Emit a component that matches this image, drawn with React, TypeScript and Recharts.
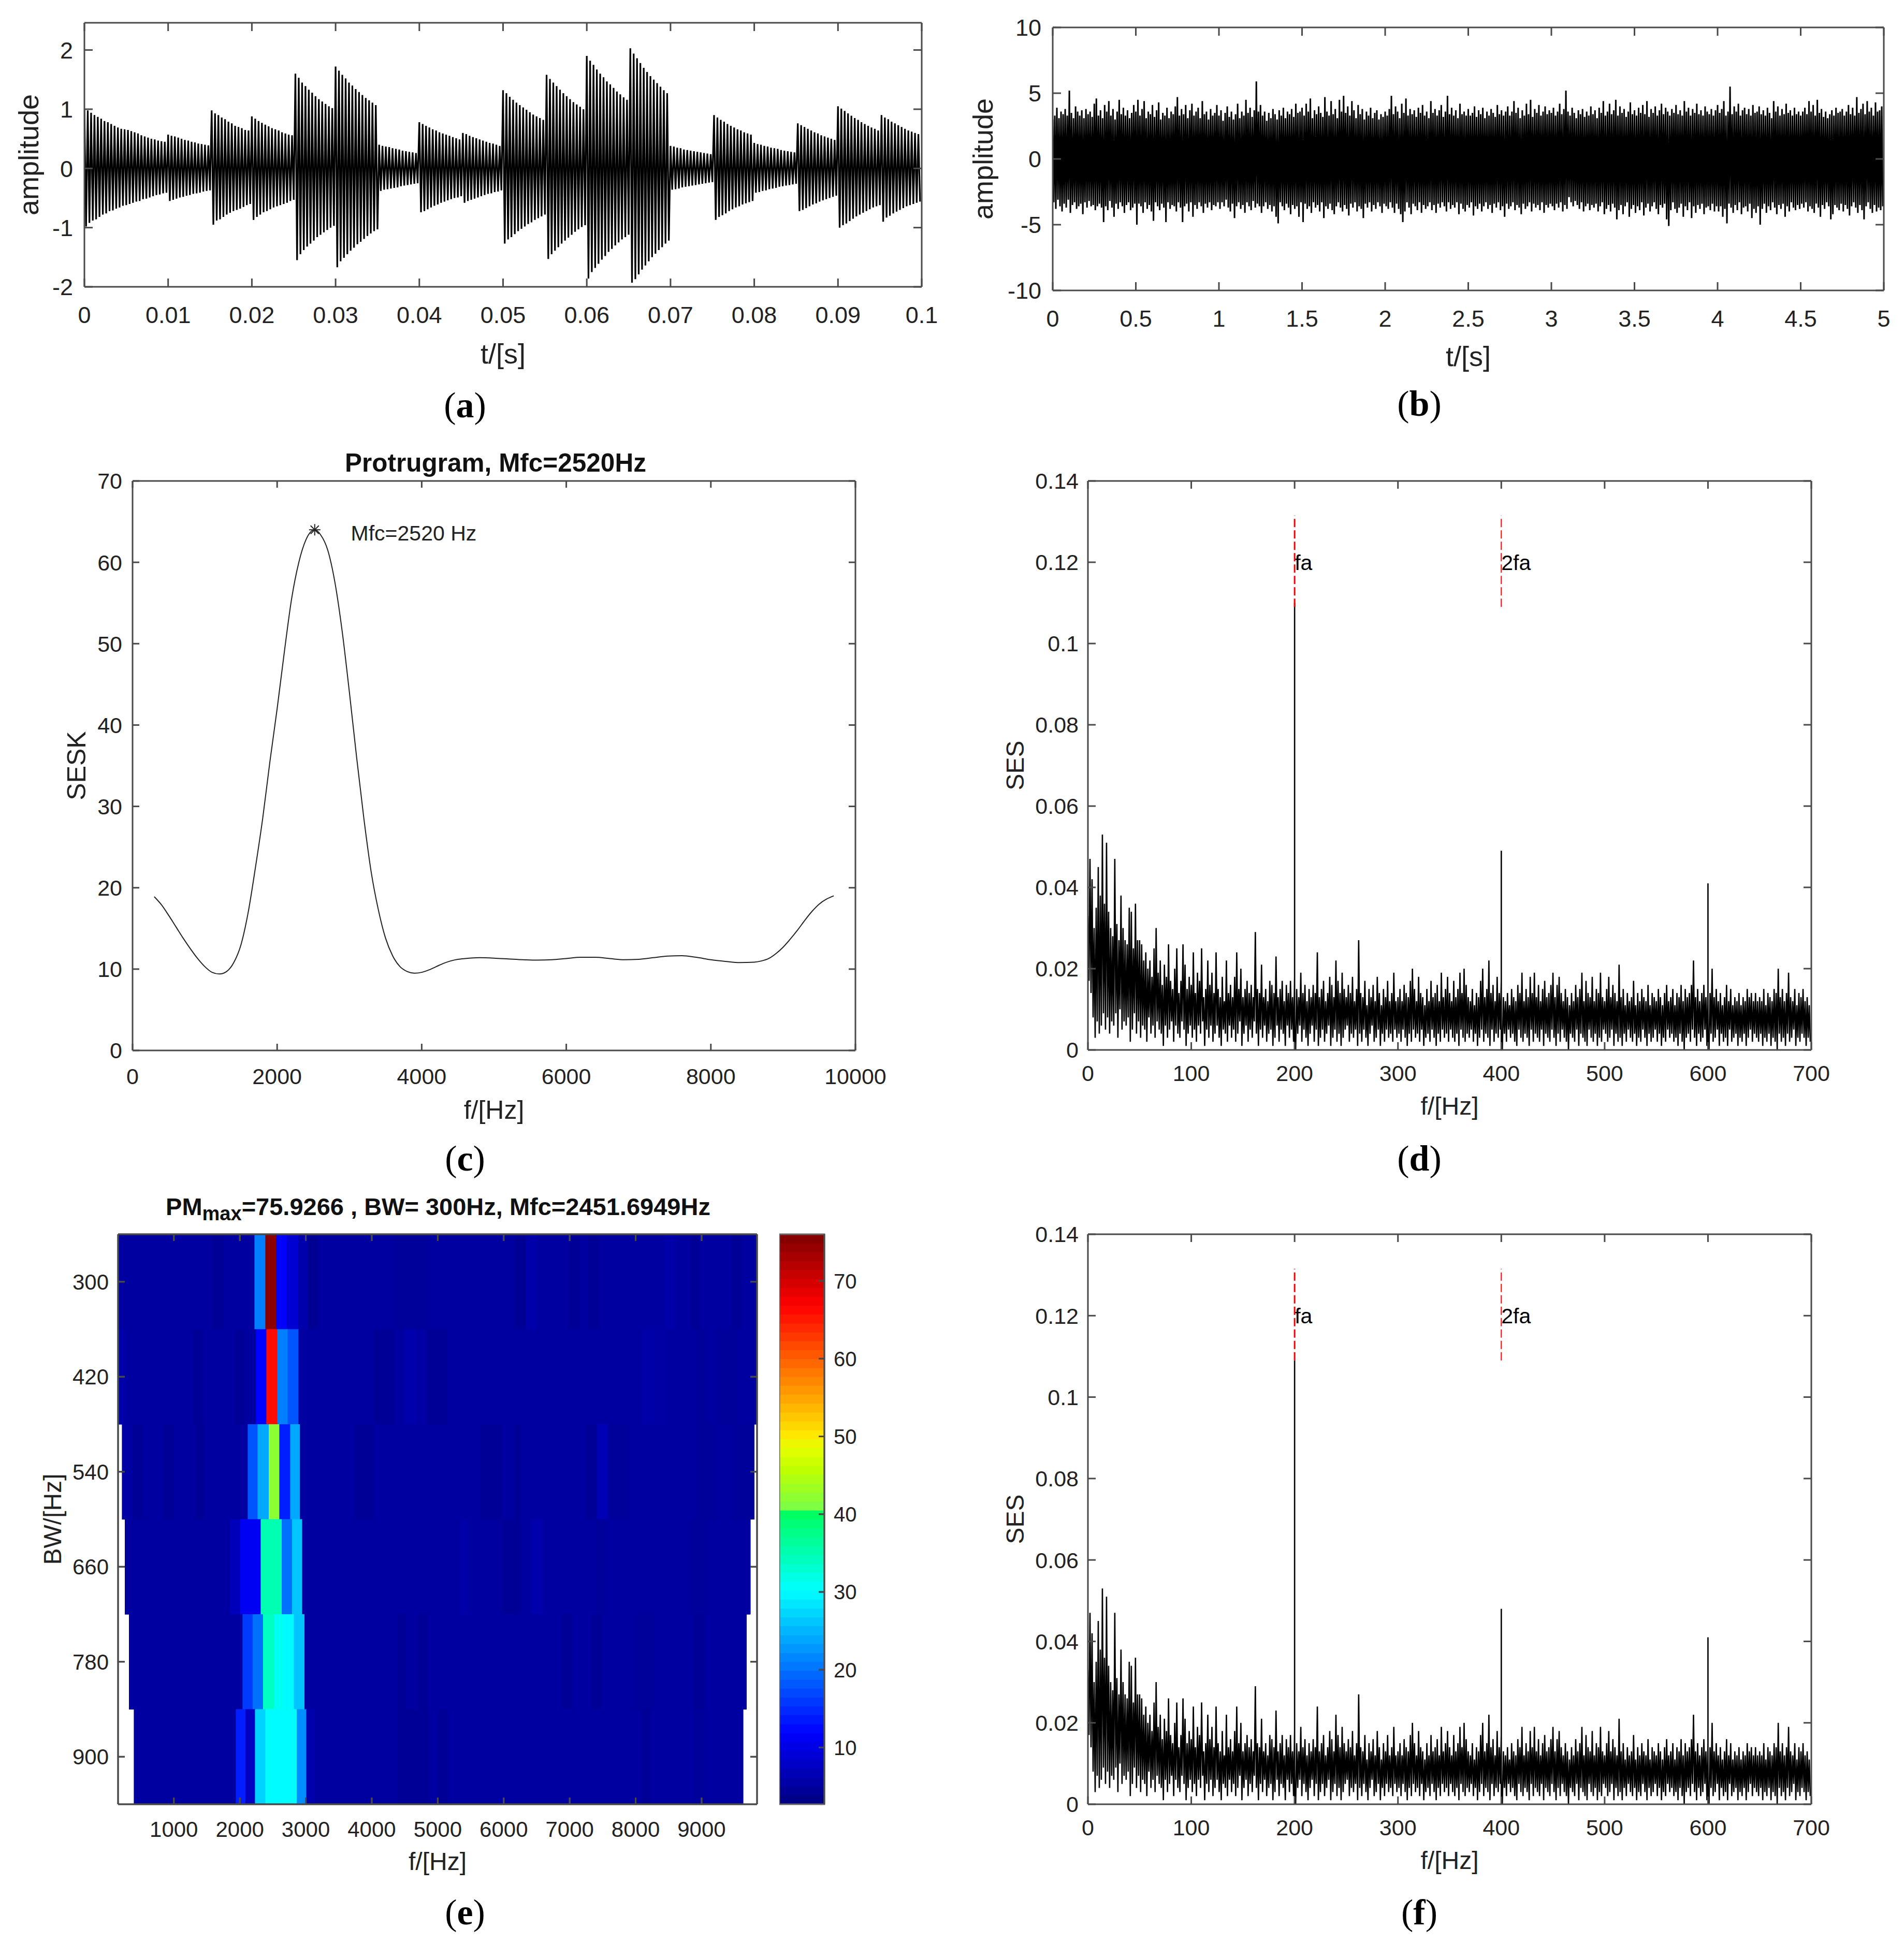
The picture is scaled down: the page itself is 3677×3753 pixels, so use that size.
import { ComposedChart, Line, XAxis, YAxis, ReferenceArea, ReferenceLine, ReferenceDot } from 'recharts';

// (a) simulated signal: crest / trough height of each oscillation, in hundredths
const waveCrests = [
  100, 98, 94, 90, 87, 84, 80, 78, 75, 72, 69, 67, 66,
  65, 63, 61, 59, 56, 54, 52, 50, 49, 47, 46, 45,
  57, 55, 54, 52, 50, 48, 47, 45, 44, 42, 41, 40, 39,
  98, 93, 90, 86, 83, 79, 76, 72, 70, 68, 65, 64,
  88, 84, 80, 77, 74, 71, 68, 66, 64, 61, 59, 57, 56,
  160, 153, 145, 139, 133, 128, 122, 117, 113, 109, 105, 102,
  172, 165, 158, 152, 145, 140, 134, 129, 124, 119, 115, 111, 107,
  40, 38, 37, 36, 34, 33, 32, 30, 29, 28, 27, 26,
  78, 75, 72, 69, 66, 64, 61, 59, 57, 55, 53, 51, 49,
  60, 58, 55, 53, 51, 49, 47, 45, 43, 42, 40, 38,
  132, 127, 121, 116, 111, 107, 103, 99, 95, 91, 88, 85, 82,
  158, 151, 145, 139, 133, 127, 122, 117, 112, 108, 104, 100,
  190, 182, 175, 167, 160, 154, 147, 142, 136, 130, 125, 120, 116,
  203, 194, 186, 178, 170, 163, 156, 150, 144, 138, 132, 127,
  38, 37, 35, 34, 32, 31, 30, 29, 28, 27, 26, 25, 24,
  90, 86, 82, 79, 75, 72, 69, 66, 64, 61, 59, 57,
  43, 41, 40, 38, 37, 35, 34, 33, 31, 30, 29, 28, 27,
  76, 73, 70, 67, 64, 61, 59, 56, 54, 52, 50, 48,
  105, 101, 97, 93, 89, 85, 82, 78, 75, 72, 69, 67, 64,
  90, 86, 83, 79, 76, 73, 70, 67, 64, 62, 60, 58,
];
const waveTroughs = [
  98, 92, 88, 86, 82, 78, 76, 72, 71, 68, 66, 63, 62,
  60, 58, 56, 55, 52, 51, 49, 47, 45, 44, 42, 41,
  55, 53, 51, 49, 48, 46, 45, 43, 42, 41, 39, 38, 37,
  95, 88, 86, 82, 78, 75, 72, 70, 68, 65, 62, 60,
  87, 82, 78, 74, 72, 69, 66, 64, 62, 60, 58, 55, 53,
  155, 145, 138, 132, 127, 122, 116, 112, 108, 104, 100, 97,
  167, 157, 151, 145, 139, 134, 128, 124, 119, 114, 110, 106, 103,
  38, 36, 35, 34, 33, 32, 30, 29, 28, 27, 26, 25,
  74, 72, 69, 66, 63, 61, 58, 56, 54, 52, 50, 49, 47,
  58, 55, 53, 51, 49, 47, 45, 43, 42, 40, 39, 37,
  127, 120, 116, 111, 106, 102, 98, 94, 91, 87, 84, 81, 78,
  153, 145, 139, 133, 127, 122, 117, 112, 107, 103, 99, 96,
  186, 175, 168, 161, 154, 148, 141, 136, 130, 125, 120, 116, 112,
  193, 187, 179, 171, 164, 157, 150, 144, 138, 133, 127, 122,
  36, 35, 34, 32, 31, 30, 29, 28, 27, 26, 25, 24, 23,
  87, 82, 79, 76, 72, 69, 66, 64, 61, 59, 57, 55,
  41, 40, 38, 37, 35, 34, 33, 31, 30, 29, 28, 27, 26,
  72, 70, 67, 64, 61, 59, 56, 54, 52, 50, 48, 46,
  100, 96, 93, 89, 85, 81, 78, 75, 72, 69, 66, 64, 62,
  90, 83, 80, 76, 73, 70, 67, 64, 62, 60, 58, 56,
];

// (b) noisy signal: upper and lower excursions in tenths, one row per 0.25 s
const noiseHigh = [
  30, 33, 39, 31, 36, 34, 38, 33, 52, 35, 31, 40, 36, 33, 37, 31, 38, 34, 36, 32,
  42, 46, 33, 37, 31, 41, 36, 44, 33, 38, 30, 36, 45, 34, 39, 33, 37, 31, 35, 41,
  36, 45, 33, 38, 44, 31, 36, 34, 41, 32, 37, 43, 30, 35, 33, 39, 31, 36, 34, 40,
  47, 33, 38, 34, 41, 31, 37, 42, 33, 36, 39, 31, 44, 34, 36, 30, 38, 33, 35, 41,
  33, 37, 29, 35, 40, 32, 36, 30, 34, 42, 31, 36, 33, 45, 35, 39, 32, 37, 59, 36,
  41, 33, 36, 29, 35, 31, 38, 34, 30, 37, 33, 39, 31, 36, 34, 38, 32, 42, 35, 36,
  39, 33, 42, 36, 46, 31, 37, 34, 40, 35, 32, 47, 36, 33, 44, 34, 38, 31, 45, 36,
  48, 35, 40, 33, 44, 37, 31, 41, 34, 38, 30, 36, 33, 39, 31, 35, 37, 30, 34, 32,
  36, 33, 38, 48, 34, 40, 36, 31, 42, 35, 46, 33, 38, 34, 37, 32, 39, 35, 41, 33,
  36, 31, 44, 35, 38, 33, 37, 41, 32, 36, 48, 34, 39, 33, 37, 31, 42, 34, 36, 33,
  38, 33, 35, 40, 32, 37, 34, 39, 31, 36, 33, 38, 35, 32, 41, 34, 37, 33, 36, 40,
  33, 36, 44, 35, 39, 31, 37, 33, 42, 34, 45, 32, 38, 35, 41, 33, 36, 40, 34, 37,
  35, 39, 33, 36, 42, 34, 38, 52, 36, 33, 39, 35, 31, 37, 34, 38, 32, 36, 33, 40,
  34, 37, 31, 39, 35, 44, 33, 36, 42, 34, 37, 45, 33, 40, 35, 38, 32, 36, 43, 34,
  37, 33, 39, 35, 41, 34, 44, 32, 38, 35, 40, 33, 37, 42, 34, 39, 36, 33, 38, 35,
  41, 34, 37, 33, 44, 36, 39, 33, 38, 35, 42, 34, 37, 33, 40, 36, 34, 38, 33, 37,
  41, 35, 38, 44, 33, 36, 55, 34, 40, 36, 42, 33, 37, 39, 34, 38, 33, 41, 35, 36,
  40, 34, 37, 33, 39, 35, 31, 44, 36, 40, 33, 38, 34, 42, 35, 37, 33, 39, 34, 36,
  33, 36, 39, 34, 44, 36, 41, 33, 45, 35, 38, 32, 36, 31, 34, 37, 33, 39, 35, 36,
  38, 33, 36, 41, 34, 39, 33, 47, 35, 38, 42, 34, 44, 36, 39, 33, 43, 36, 37, 40,
];
const noiseLow = [
  33, 38, 31, 36, 40, 34, 37, 31, 41, 35, 33, 38, 36, 34, 42, 33, 37, 32, 36, 35,
  39, 36, 34, 37, 48, 36, 39, 32, 37, 44, 34, 38, 33, 36, 41, 35, 33, 39, 37, 34,
  50, 34, 36, 41, 33, 38, 35, 40, 47, 33, 36, 39, 34, 37, 48, 33, 38, 35, 36, 40,
  33, 37, 48, 36, 34, 40, 33, 44, 35, 38, 33, 36, 41, 34, 37, 33, 39, 35, 36, 33,
  38, 33, 36, 31, 37, 40, 34, 45, 36, 33, 38, 35, 41, 33, 36, 39, 32, 37, 34, 36,
  41, 36, 33, 38, 35, 40, 36, 44, 49, 33, 36, 39, 34, 37, 42, 35, 38, 36, 44, 33,
  48, 34, 38, 36, 41, 33, 37, 35, 40, 33, 45, 36, 38, 34, 39, 42, 36, 33, 37, 40,
  35, 38, 43, 34, 37, 33, 40, 36, 38, 45, 34, 37, 33, 40, 35, 38, 33, 36, 41, 34,
  36, 38, 33, 37, 41, 34, 38, 42, 48, 40, 33, 37, 42, 34, 36, 39, 33, 41, 35, 38,
  36, 33, 39, 35, 41, 34, 37, 33, 36, 40, 33, 38, 35, 37, 33, 42, 34, 38, 40, 35,
  37, 33, 43, 36, 38, 34, 40, 36, 33, 38, 35, 41, 34, 37, 33, 39, 36, 44, 34, 38,
  36, 33, 39, 35, 37, 42, 34, 38, 36, 33, 40, 34, 37, 35, 39, 33, 41, 35, 37, 34,
  36, 39, 34, 37, 33, 40, 35, 38, 29, 33, 36, 32, 35, 38, 33, 40, 36, 34, 39, 35,
  37, 34, 40, 36, 33, 42, 38, 35, 40, 34, 37, 46, 39, 35, 42, 36, 33, 44, 38, 35,
  41, 36, 39, 33, 43, 37, 34, 40, 36, 33, 38, 42, 35, 37, 34, 46, 51, 39, 33, 38,
  41, 37, 34, 44, 36, 39, 33, 45, 36, 41, 35, 38, 34, 42, 37, 36, 39, 34, 40, 36,
  40, 36, 44, 38, 49, 34, 37, 41, 35, 39, 33, 42, 37, 36, 40, 34, 45, 38, 41, 36,
  50, 38, 34, 41, 36, 39, 33, 37, 42, 35, 38, 34, 44, 36, 40, 33, 37, 39, 35, 38,
  34, 37, 33, 40, 36, 38, 41, 34, 37, 44, 35, 38, 33, 36, 46, 42, 35, 37, 39, 34,
  40, 35, 38, 43, 36, 33, 37, 41, 35, 39, 46, 36, 33, 38, 41, 35, 40, 37, 39, 36,
];

// (c) protrugram
const protFreq = [
  300, 400, 500, 600, 700, 800, 900, 1000, 1100, 1200, 1300, 1400, 1500, 1600, 1700, 1800, 1900, 2000, 2100, 2200,
  2300, 2400, 2520, 2600, 2700, 2800, 2900, 3000, 3100, 3200, 3300, 3400, 3500, 3600, 3700, 3800, 3900, 4000, 4100,
  4200, 4300, 4400, 4500, 4600, 4800, 5000, 5200, 5400, 5600, 5800, 6000, 6200, 6400, 6600, 6800, 7000, 7200, 7400,
  7600, 7800, 8000, 8200, 8400, 8600, 8700, 8800, 8900, 9000, 9100, 9200, 9300, 9400, 9500, 9600, 9700,
];
const protSesk = [
  18.9, 17.9, 16.6, 15.2, 13.8, 12.5, 11.3, 10.3, 9.6, 9.4, 9.7, 10.8, 13, 17, 22.5, 28.5, 35.5, 42, 49, 55.5,
  60, 62.8, 64, 63.4, 61.5, 57.5, 51.5, 44, 36, 28.5, 22, 17.3, 13.8, 11.6, 10.3, 9.7, 9.5, 9.6, 9.9,
  10.3, 10.7, 11, 11.2, 11.3, 11.4, 11.35, 11.25, 11.15, 11.1, 11.15, 11.3, 11.45, 11.45, 11.3, 11.15, 11.2, 11.4, 11.6,
  11.65, 11.45, 11.15, 10.95, 10.8, 10.85, 11, 11.3, 11.9, 12.7, 13.7, 14.8, 16, 17.1, 18, 18.6, 19,
];

// (d)(f) squared envelope spectrum, thousandths, one value per 2 Hz, one row per 50 Hz
const sesHigh = [
  33, 47, 42, 30, 35, 45, 38, 53, 36, 51, 34, 30, 28, 47, 31, 27, 38, 30, 27, 26, 35, 34, 25, 36, 27,
  27, 26, 22, 24, 20, 22, 18, 25, 30, 19, 22, 16, 21, 18, 26, 17, 15, 20, 25, 14, 17, 26, 21, 15, 18,
  16, 24, 14, 19, 17, 25, 13, 15, 22, 16, 19, 14, 24, 15, 13, 18, 12, 22, 14, 16, 13, 18, 24, 15, 20,
  13, 15, 17, 14, 16, 13, 29, 15, 14, 21, 13, 15, 12, 17, 16, 14, 23, 13, 15, 17, 12, 16, 14, 17, 13,
  18, 15, 13, 19, 14, 16, 12, 15, 13, 16, 14, 24, 13, 15, 17, 12, 14, 18, 16, 13, 22, 17, 14, 19, 15,
  13, 16, 14, 18, 12, 15, 27, 14, 13, 17, 11, 15, 13, 16, 12, 18, 14, 11, 15, 13, 17, 12, 14, 19, 12,
  13, 15, 12, 16, 14, 13, 17, 20, 15, 12, 18, 14, 13, 11, 15, 12, 17, 13, 14, 16, 12, 19, 13, 15, 18,
  14, 12, 17, 13, 15, 19, 14, 20, 16, 13, 12, 15, 11, 14, 13, 17, 20, 13, 15, 22, 14, 16, 12, 18, 14,
  17, 13, 12, 14, 11, 15, 13, 12, 16, 14, 19, 12, 15, 13, 18, 14, 19, 13, 16, 12, 15, 17, 13, 14, 16,
  19, 13, 16, 18, 14, 12, 15, 13, 11, 14, 12, 16, 13, 15, 19, 12, 17, 14, 13, 18, 12, 15, 14, 19, 13,
  12, 15, 18, 13, 16, 14, 12, 21, 13, 15, 11, 14, 12, 13, 17, 11, 14, 12, 15, 13, 12, 16, 11, 14, 13,
  12, 15, 13, 11, 14, 16, 12, 13, 15, 11, 14, 13, 16, 12, 15, 13, 14, 16, 22, 13, 15, 12, 14, 16, 13,
  15, 14, 20, 13, 15, 12, 14, 11, 13, 16, 12, 15, 11, 13, 12, 14, 11, 13, 12, 15, 13, 14, 12, 14, 12,
  13, 12, 15, 11, 14, 13, 12, 15, 14, 20, 13, 15, 12, 14, 19, 13, 12, 15, 11, 14, 13, 15, 12, 13, 11,
];
const sesLow = [
  17, 14, 8, 3, 7, 4, 6, 9, 5, 8, 4, 7, 6, 9, 3, 10, 5, 7, 6, 8, 2, 5, 9, 4, 7,
  3, 6, 5, 2, 8, 4, 6, 3, 7, 5, 4, 1, 6, 3, 5, 7, 2, 6, 4, 3, 7, 5, 1, 4, 6,
  3, 5, 2, 6, 4, 7, 1, 5, 3, 6, 2, 4, 6, 3, 1, 5, 4, 2, 6, 3, 5, 2, 4, 7, 1,
  4, 6, 2, 5, 3, 7, 4, 1, 5, 3, 6, 2, 4, 5, 1, 3, 6, 2, 5, 4, 1, 6, 3, 5, 2,
  0, 4, 6, 2, 5, 3, 1, 4, 6, 2, 5, 1, 3, 5, 2, 4, 6, 1, 3, 5, 2, 4, 1, 3, 5,
  6, 2, 4, 3, 5, 1, 4, 2, 5, 3, 1, 4, 6, 2, 3, 5, 1, 4, 2, 5, 3, 4, 2, 5, 3,
  4, 2, 5, 3, 1, 4, 2, 5, 3, 4, 2, 5, 1, 3, 4, 2, 5, 3, 1, 4, 2, 5, 3, 4, 2,
  5, 3, 2, 4, 1, 5, 3, 2, 4, 3, 5, 2, 4, 1, 3, 5, 2, 4, 3, 1, 5, 2, 4, 3, 5,
  0, 4, 2, 5, 3, 4, 2, 1, 5, 3, 2, 4, 3, 1, 5, 2, 4, 3, 2, 5, 1, 4, 3, 2, 5,
  3, 1, 4, 2, 5, 3, 2, 0, 4, 3, 2, 5, 1, 4, 3, 2, 1, 5, 3, 2, 4, 1, 3, 2, 5,
  4, 2, 3, 5, 1, 4, 2, 3, 1, 4, 2, 5, 3, 2, 4, 1, 3, 2, 5, 3, 1, 4, 2, 3, 5,
  2, 4, 1, 3, 2, 5, 3, 4, 2, 3, 1, 4, 2, 0, 3, 4, 2, 5, 3, 1, 4, 2, 3, 5, 1,
  0, 4, 2, 3, 5, 1, 4, 2, 3, 1, 5, 2, 3, 4, 1, 3, 2, 4, 1, 3, 5, 2, 4, 3, 2,
  4, 1, 3, 2, 4, 1, 3, 2, 0, 4, 2, 3, 1, 4, 2, 3, 5, 1, 3, 2, 4, 3, 1, 3, 2,
];
const peaksD: Record<number, number> = { 200: 110, 400: 49, 600: 41 };
const peaksF: Record<number, number> = { 200: 109, 400: 48, 600: 41 };
const faMarks = [200, 400];
const faLabels = ['fa', '2fa'];

// (e) protrugram map: band edges in Hz and the level of each band between them
const mapBandwidths = [300, 420, 540, 660, 780, 900];
const mapEdges = [
  [154, 1578, 1750, 2224, 2388, 2552, 2716, 2888, 3034, 3190, 4353, 4870, 6164, 6336, 6490, 6983, 7155, 7284, 7457, 8448, 8603, 8836, 8965, 9440, 9612, 9840],
  [154, 270, 1283, 1440, 1925, 2077, 2246, 2403, 2568, 2725, 2890, 4033, 4340, 4500, 4675, 4830, 5150, 8103, 8276, 8448, 8922, 9052, 9230, 9530, 9840],
  [215, 366, 538, 836, 1008, 1330, 1470, 2121, 2270, 2442, 2600, 2764, 2913, 3750, 4034, 5647, 5974, 6164, 6267, 7241, 7414, 7586, 7888, 8922, 9230, 9483, 9800],
  [259, 1853, 2009, 2319, 2638, 2793, 2948, 5345, 5474, 5974, 6267, 6422, 6595, 7414, 7543, 8836, 9095, 9741],
  [319, 2043, 2198, 2353, 2517, 2655, 2819, 2983, 4397, 4526, 4698, 4853, 6879, 7043, 7327, 7500, 7974, 8276, 8880, 9052, 9681],
  [397, 1940, 2086, 2233, 2388, 2862, 3009, 3140, 4397, 4870, 5000, 5155, 8103, 8233, 8880, 9060, 9629],
];
const mapLevels = [
  [5, 4.4, 5, 21, 75, 11.9, 8.6, 6, 4, 5, 4.6, 5, 4.4, 5.8, 5, 4.4, 5, 4.4, 5, 5.6, 5, 4.4, 5, 4.4, 5],
  [5.6, 5, 4.4, 5, 4.4, 5, 12, 66, 21, 18, 5, 4.4, 5, 6, 5.4, 4.4, 5, 5.7, 5.3, 5, 4.6, 5, 4.6, 5],
  [5.4, 4.4, 5, 4.4, 5, 4.4, 5, 18, 24, 42, 14, 24, 5, 4.4, 5, 4.4, 5, 4.4, 5, 4.4, 6.5, 4.6, 5, 4.6, 5, 4.6],
  [5, 7, 11, 35, 20, 26, 5, 5.6, 5, 4.4, 5, 6, 5, 4.6, 5, 4.6, 5],
  [5, 16, 20, 34, 31, 30, 26, 5, 4.4, 5, 4.4, 5, 4.4, 5, 4.4, 5, 4.6, 5, 4.4, 5],
  [5, 14, 7.5, 27, 30, 22, 6, 5, 4.4, 5, 4.4, 5, 4.5, 5, 4.6, 5],
];
const mapLimits = [2.7, 76];
const colorbarLevelCount = 64;

const xTicksA = [0, 0.01, 0.02, 0.03, 0.04, 0.05, 0.06, 0.07, 0.08, 0.09, 0.1];
const yTicksA = [-2, -1, 0, 1, 2];
const xTicksB = [0, 0.5, 1, 1.5, 2, 2.5, 3, 3.5, 4, 4.5, 5];
const yTicksB = [-10, -5, 0, 5, 10];
const xTicksC = [0, 2000, 4000, 6000, 8000, 10000];
const yTicksC = [0, 10, 20, 30, 40, 50, 60, 70];
const xTicksSes = [0, 100, 200, 300, 400, 500, 600, 700];
const yTicksSes = [0, 0.02, 0.04, 0.06, 0.08, 0.1, 0.12, 0.14];
const xTicksE = [1000, 2000, 3000, 4000, 5000, 6000, 7000, 8000, 9000];
const barTicks = [10, 20, 30, 40, 50, 60, 70];

const waveData = waveCrests.flatMap((c, i) => [
  { t: i * 0.0004, y: c / 100 },
  { t: i * 0.0004 + 0.0002, y: -waveTroughs[i] / 100 },
]);
const noiseData = noiseHigh.flatMap((h, i) => [
  { t: i * 0.0125, y: h / 10 },
  { t: i * 0.0125 + 0.00625, y: -noiseLow[i] / 10 },
]);
const protData = protFreq.map((f, i) => ({ f, y: protSesk[i] }));
// the harmonics stand as single vertical strokes, so they get both ends at one frequency
const sesTable = (peaks: Record<number, number>) =>
  sesHigh.flatMap((h, i) => {
    const f = i * 2;
    const low = { f: f + 1, y: sesLow[i] / 1000 };
    if (peaks[f] == null) return [{ f, y: h / 1000 }, low];
    return [{ f, y: h / 1000 }, { f, y: peaks[f] / 1000 }, { f, y: 0 }, low];
  });

const FONT = '"Liberation Sans", Arial, sans-serif';
const INK = '#4a4a4a';
const PAD_TOP = 40;
const PAD_RIGHT = 80;

const jet = (v: number) => {
  const t = (v - mapLimits[0]) / (mapLimits[1] - mapLimits[0]);
  const ch = (x: number) => Math.round(Math.max(0, Math.min(1, x)) * 255);
  const g = Math.min(4 * t - 0.5, 3.5 - 4 * t);
  // this map has no red below 40 and steps up there, unlike plain jet
  if (v > 30 && v < 40) return `rgb(0,${ch(g)},${ch(1 - (t - 0.375) * 4.6)})`;
  const r = Math.min(4 * t - 1.5, 4.5 - 4 * t);
  const b = Math.min(4 * t + 0.5, 2.5 - 4 * t);
  return v >= 40 && v < 50 ? `rgb(${ch(r - 0.1)},${ch(g)},${ch(b - 0.15)})` : `rgb(${ch(r)},${ch(g)},${ch(b)})`;
};

// inward MATLAB ticks with their label, drawn from the position the axis hands over
const makeTick = (side: string, size: number, gap = 0, font = 0) =>
  function AxisTick({ x, y, payload }: any) {
    const inner = { bottom: [x, y - size], top: [x, y + size], left: [x + size, y], right: [x - size, y] }[side] as number[];
    const text = { fontSize: font, fill: '#222', fontFamily: FONT };
    return (
      <g>
        <line x1={x} y1={y} x2={inner[0]} y2={inner[1]} stroke={INK} strokeWidth={3} />
        {side === 'bottom' && font > 0 && <text x={x} y={y + gap + font * 0.72} textAnchor="middle" {...text}>{payload.value}</text>}
        {side === 'left' && font > 0 && <text x={x - gap} y={y + font * 0.36} textAnchor="end" {...text}>{payload.value}</text>}
        {side === 'right' && font > 0 && <text x={x + gap} y={y + font * 0.36} textAnchor="start" {...text}>{payload.value}</text>}
      </g>
    );
  };

function frameAxes(o: any) {
  const size = o.tickLen ?? 16;
  const line = { stroke: INK, strokeWidth: 3 };
  const label = (value?: string, angle = 0) =>
    value ? { value, angle, position: 'center', style: { fontSize: o.labelFont, fill: '#222', fontFamily: FONT } } : undefined;
  const common = { type: 'number' as const, allowDataOverflow: true, interval: 0, tickLine: false, tickSize: 0, tickMargin: 0, axisLine: line };
  return (
    <>
      <XAxis {...common} dataKey={o.xKey} domain={o.xDomain} ticks={o.xTicks} height={o.xH} tick={makeTick('bottom', size, o.xGap, o.font)} label={label(o.xLabel) as any} />
      <XAxis {...common} xAxisId="top" orientation="top" dataKey={o.xKey} domain={o.xDomain} ticks={o.xTicks} height={1} tick={makeTick('top', size)} />
      <YAxis {...common} domain={o.yDomain} reversed={o.yReversed} ticks={o.yTicks} width={o.yW} tick={makeTick('left', size, o.yGap, o.font)} label={label(o.yLabel, -90) as any} />
      <YAxis {...common} yAxisId="right" orientation="right" domain={o.yDomain} reversed={o.yReversed} ticks={o.yTicks} width={1} tick={makeTick('right', size)} />
    </>
  );
}

function Panel({ left, top, width, height, yW, xH, data, children }: any) {
  return (
    <div style={{ position: 'absolute', left: left - yW, top: top - PAD_TOP }}>
      <ComposedChart width={yW + width + PAD_RIGHT} height={PAD_TOP + height + xH} data={data} margin={{ top: PAD_TOP - 1, right: PAD_RIGHT - 1, left: 0, bottom: 0 }}>
        {children}
      </ComposedChart>
    </div>
  );
}

function Caption({ x, y, letter }: { x: number; y: number; letter: string }) {
  return (
    <div style={{ position: 'absolute', left: x - 100, top: y - 50, width: 200, height: 100, lineHeight: '100px', textAlign: 'center', fontFamily: '"Liberation Serif", serif', fontSize: 70, color: '#000' }}>
      (<b>{letter}</b>)
    </div>
  );
}

function Title({ x, y, size, children }: any) {
  return (
    <div style={{ position: 'absolute', left: x - 800, top: y - 40, width: 1600, height: 80, lineHeight: '80px', textAlign: 'center', fontFamily: FONT, fontWeight: 'bold', fontSize: size, color: '#111', whiteSpace: 'nowrap' }}>
      {children}
    </div>
  );
}

function SesPanel({ top, height, xH, peaks }: any) {
  return (
    <Panel left={2101} top={top} width={1397} height={height} yW={282} xH={xH} data={sesTable(peaks)}>
      {frameAxes({ xKey: 'f', xDomain: [0, 700], yDomain: [0, 0.14], xTicks: xTicksSes, yTicks: yTicksSes, xLabel: 'f/[Hz]', yLabel: 'SES', font: 43, labelFont: 48, xH, yW: 282, xGap: 29, yGap: 18, tickLen: 15 })}
      <Line dataKey="y" type="linear" dot={false} stroke="#000" strokeWidth={2.6} isAnimationActive={false} />
      {faMarks.map((f, i) => (
        <ReferenceLine key={f} segment={[{ x: f, y: 0.109 }, { x: f, y: 0.1315 }]} stroke="#f00" strokeWidth={i === 0 ? 3 : 2} strokeDasharray="16 6" />
      ))}
      {faMarks.map((f, i) => (
        <ReferenceDot key={f} x={f} y={0.12} r={0} fill="none" stroke="none"
          label={{ value: faLabels[i], position: 'right', offset: 0, style: { fontSize: 41, fill: '#000', fontFamily: FONT } }} />
      ))}
    </Panel>
  );
}

const Star = ({ cx, cy }: any) => (
  <g stroke="#222" strokeWidth={2}>
    <line x1={cx - 11} x2={cx + 11} y1={cy} y2={cy} />
    <line x1={cx} x2={cx} y1={cy - 11} y2={cy + 11} />
    <line x1={cx - 8} x2={cx + 8} y1={cy - 8} y2={cy + 8} />
    <line x1={cx - 8} x2={cx + 8} y1={cy + 8} y2={cy - 8} />
  </g>
);

// the cells paint over axes, so the colorbar and map frames are drawn once more on top
function ColorbarChart({ children, font }: any) {
  return (
    <div style={{ position: 'absolute', left: 1505, top: 2384 - PAD_TOP }}>
      <ComposedChart width={87 + 120} height={1101 + PAD_TOP * 2} data={[]} margin={{ top: PAD_TOP, right: 0, left: 0, bottom: PAD_TOP }}>
        <XAxis dataKey="x" type="number" domain={[0, 1]} allowDataOverflow hide />
        <YAxis orientation="right" type="number" domain={mapLimits} ticks={barTicks} allowDataOverflow interval={0} width={120}
          tickLine={false} tickSize={0} tickMargin={0} tick={makeTick('right', 11, 18, font)} axisLine={{ stroke: INK, strokeWidth: 2.5 }} />
        {children}
      </ComposedChart>
    </div>
  );
}

export default function App() {
  const barLevels = Array.from({ length: colorbarLevelCount }, (_, i) => i);
  const barStep = (mapLimits[1] - mapLimits[0]) / colorbarLevelCount;
  const mapFrame = { xKey: 'f', xDomain: [154, 9840], yDomain: [240, 960], yReversed: true, xTicks: xTicksE, yTicks: mapBandwidths, xH: 220, yW: 254, xGap: 33, yGap: 18, tickLen: 13 };
  return (
    <div style={{ position: 'absolute', left: 0, top: 0, width: 3677, height: 3753, background: '#fff', overflow: 'hidden' }}>
      <Panel left={163} top={44} width={1617} height={510} yW={216} xH={258} data={waveData}>
        {frameAxes({ xKey: 't', xDomain: [0, 0.1], yDomain: [-2, 2.46], xTicks: xTicksA, yTicks: yTicksA, xLabel: 't/[s]', yLabel: 'amplitude', font: 45, labelFont: 54, xH: 258, yW: 216, xGap: 38, yGap: 22 })}
        <Line dataKey="y" type="linear" dot={false} stroke="#000" strokeWidth={3.2} isAnimationActive={false} />
      </Panel>

      <Panel left={2033} top={53} width={1605} height={508} yW={270} xH={254} data={noiseData}>
        {frameAxes({ xKey: 't', xDomain: [0, 5], yDomain: [-10, 10], xTicks: xTicksB, yTicks: yTicksB, xLabel: 't/[s]', yLabel: 'amplitude', font: 45, labelFont: 54, xH: 254, yW: 270, xGap: 38, yGap: 22 })}
        <Line dataKey="y" type="linear" dot={false} stroke="#000" strokeWidth={3} isAnimationActive={false} />
      </Panel>

      <Panel left={256} top={929} width={1396} height={1100} yW={218} xH={228} data={protData}>
        {frameAxes({ xKey: 'f', xDomain: [0, 10000], yDomain: [0, 70], xTicks: xTicksC, yTicks: yTicksC, xLabel: 'f/[Hz]', yLabel: 'SESK', font: 43, labelFont: 50, xH: 228, yW: 218, xGap: 34, yGap: 20, tickLen: 13 })}
        <Line dataKey="y" type="monotone" dot={false} stroke="#222" strokeWidth={2} isAnimationActive={false} />
        <ReferenceDot x={2520} y={64} shape={Star} />
        <ReferenceDot x={3020} y={63.6} r={0} fill="none" stroke="none"
          label={{ value: 'Mfc=2520 Hz', position: 'right', offset: 0, style: { fontSize: 41, fill: '#222', fontFamily: FONT } }} />
      </Panel>

      <SesPanel top={929} height={1099} xH={216} peaks={peaksD} />

      <Panel left={228} top={2384} width={1234} height={1101} yW={254} xH={220} data={[]}>
        {frameAxes({ ...mapFrame, xLabel: 'f/[Hz]', yLabel: 'BW/[Hz]', font: 42, labelFont: 48 })}
        {mapBandwidths.flatMap((bw, r) =>
          mapLevels[r].map((v, c) => (
            <ReferenceArea key={`${bw}-${c}`} x1={mapEdges[r][c]} x2={mapEdges[r][c + 1]} y1={bw - 60} y2={bw + 60} fill={jet(v)} fillOpacity={1} stroke={jet(v)} strokeWidth={0.6} shapeRendering="crispEdges" ifOverflow="hidden" />
          )),
        )}
      </Panel>
      <Panel left={228} top={2384} width={1234} height={1101} yW={254} xH={220} data={[]}>
        {frameAxes({ ...mapFrame, font: 0 })}
      </Panel>

      <ColorbarChart font={40}>
        {barLevels.map((i) => (
          <ReferenceArea key={i} x1={0} x2={1} y1={mapLimits[0] + i * barStep} y2={mapLimits[0] + (i + 1) * barStep} fill={jet(mapLimits[0] + (i + 0.5) * barStep)} fillOpacity={1} stroke={jet(mapLimits[0] + (i + 0.5) * barStep)} strokeWidth={0.6} shapeRendering="crispEdges" />
        ))}
        <ReferenceArea x1={0} x2={1} y1={mapLimits[0]} y2={mapLimits[1]} fill="none" stroke="#666" strokeWidth={3} />
      </ColorbarChart>
      <ColorbarChart font={0} />

      <SesPanel top={2384} height={1101} xH={216} peaks={peaksF} />

      <Title x={957} y={894} size={49.5}>Protrugram, Mfc=2520Hz</Title>
      <Title x={846} y={2331} size={47}>
        PM<sub style={{ fontSize: 38, lineHeight: 0 }}>max</sub>=75.9266 , BW= 300Hz, Mfc=2451.6949Hz
      </Title>

      <Caption x={898} y={783} letter="a" />
      <Caption x={2741} y={780} letter="b" />
      <Caption x={898} y={2238} letter="c" />
      <Caption x={2741} y={2238} letter="d" />
      <Caption x={898} y={3694} letter="e" />
      <Caption x={2741} y={3694} letter="f" />
    </div>
  );
}
